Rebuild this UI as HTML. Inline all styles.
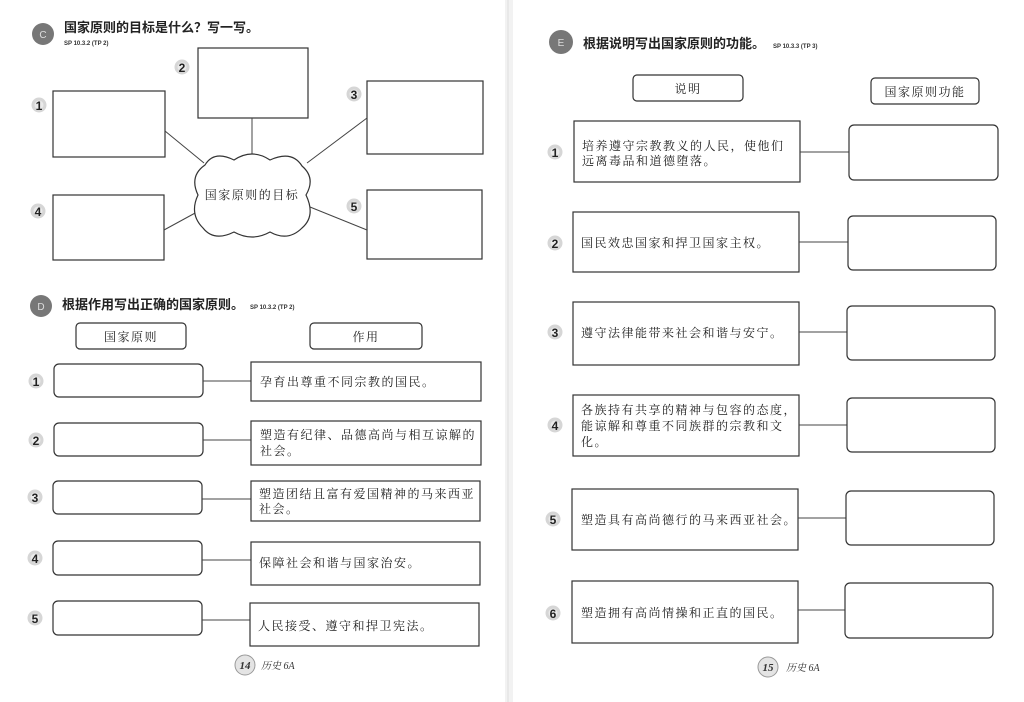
<!DOCTYPE html>
<html><head><meta charset="utf-8"><style>
html,body{margin:0;padding:0;background:#fff;}
svg{display:block;}
.h{font-family:"Liberation Sans","Noto Sans CJK SC",sans-serif;font-weight:bold;font-size:13px;fill:#222;}
.sp{font-family:"Liberation Sans",sans-serif;font-weight:bold;font-size:6px;fill:#333;}
.t{font-family:"Liberation Serif","Noto Serif CJK SC",serif;font-size:12px;fill:#222;letter-spacing:1.5px;}
.n{font-family:"Liberation Sans",sans-serif;font-weight:bold;font-size:12px;fill:#222;}
.b{fill:none;stroke:#333;stroke-width:1.2;}
.l{stroke:#444;stroke-width:1;}
</style></head><body>
<svg width="1024" height="702" viewBox="0 0 1024 702" xmlns="http://www.w3.org/2000/svg">
<rect x="0" y="0" width="1024" height="702" fill="#fff"/>
<rect x="505" y="0" width="8" height="702" fill="#f2f2f2"/>
<line x1="508" y1="0" x2="508" y2="702" stroke="#ddd" stroke-width="1"/>

<defs>
<g id="fl"><circle r="7.5" fill="#d6d6d6"/><circle r="4.5" fill="#eaeaea"/></g>
</defs>

<!-- Section C -->
<circle cx="43" cy="34" r="11" fill="#777"/>
<text x="43" y="38" text-anchor="middle" font-family="Liberation Sans" font-size="10" fill="#ddd">C</text>
<text x="64" y="32" class="h">国家原则的目标是什么？写一写。</text>
<text x="64" y="45" class="sp">SP 10.3.2 (TP 2)</text>

<rect x="198" y="48" width="110" height="70" class="b"/>
<rect x="53" y="91" width="112" height="66" class="b"/>
<rect x="367" y="81" width="116" height="73" class="b"/>
<rect x="53" y="195" width="111" height="65" class="b"/>
<rect x="367" y="190" width="115" height="69" class="b"/>
<line x1="252" y1="118" x2="252" y2="156" class="l"/>
<line x1="165" y1="131" x2="204" y2="163" class="l"/>
<line x1="367" y1="118" x2="307" y2="163" class="l"/>
<line x1="164" y1="230" x2="197" y2="212" class="l"/>
<line x1="367" y1="230" x2="310" y2="207" class="l"/>
<path d="M205,165 Q214,150 234,160 Q252,148 270,160 Q292,150 302,166 Q316,178 306,195 Q316,216 302,228 Q288,242 270,232 Q252,242 234,232 Q214,242 203,228 Q189,214 198,195 Q189,176 205,165 Z" fill="#fff" stroke="#333" stroke-width="1.2"/>
<text x="252" y="199" text-anchor="middle" class="t">国家原则的目标</text>

<use href="#fl" x="182" y="67"/><text x="182" y="72" text-anchor="middle" class="n">2</text>
<use href="#fl" x="39" y="105"/><text x="39" y="110" text-anchor="middle" class="n">1</text>
<use href="#fl" x="354" y="94"/><text x="354" y="99" text-anchor="middle" class="n">3</text>
<use href="#fl" x="38" y="211"/><text x="38" y="216" text-anchor="middle" class="n">4</text>
<use href="#fl" x="354" y="206"/><text x="354" y="211" text-anchor="middle" class="n">5</text>

<!-- Section D -->
<circle cx="41" cy="306" r="11" fill="#777"/>
<text x="41" y="310" text-anchor="middle" font-family="Liberation Sans" font-size="10" fill="#ddd">D</text>
<text x="62" y="309" class="h">根据作用写出正确的国家原则。</text>
<text x="250" y="309" class="sp">SP 10.3.2 (TP 2)</text>
<rect x="76" y="323" width="110" height="26" rx="4" class="b"/>
<text x="131" y="341" text-anchor="middle" class="t">国家原则</text>
<rect x="310" y="323" width="112" height="26" rx="4" class="b"/>
<text x="366" y="341" text-anchor="middle" class="t">作用</text>

<g>
<rect x="54" y="364" width="149" height="33" rx="5" class="b"/>
<line x1="203" y1="381" x2="251" y2="381" class="l"/>
<rect x="251" y="362" width="230" height="39" class="b"/>
<text x="260" y="386" class="t">孕育出尊重不同宗教的国民。</text>
<use href="#fl" x="36" y="381"/><text x="36" y="386" text-anchor="middle" class="n">1</text>

<rect x="54" y="423" width="149" height="33" rx="5" class="b"/>
<line x1="203" y1="440" x2="251" y2="440" class="l"/>
<rect x="251" y="421" width="230" height="44" class="b"/>
<text x="260" y="439" class="t">塑造有纪律、品德高尚与相互谅解的</text>
<text x="260" y="455" class="t">社会。</text>
<use href="#fl" x="36" y="440"/><text x="36" y="445" text-anchor="middle" class="n">2</text>

<rect x="53" y="481" width="149" height="33" rx="5" class="b"/>
<line x1="202" y1="499" x2="251" y2="499" class="l"/>
<rect x="251" y="481" width="229" height="40" class="b"/>
<text x="259" y="498" class="t">塑造团结且富有爱国精神的马来西亚</text>
<text x="259" y="513" class="t">社会。</text>
<use href="#fl" x="35" y="497"/><text x="35" y="502" text-anchor="middle" class="n">3</text>

<rect x="53" y="541" width="149" height="34" rx="5" class="b"/>
<line x1="202" y1="560" x2="251" y2="560" class="l"/>
<rect x="251" y="542" width="229" height="43" class="b"/>
<text x="259" y="567" class="t">保障社会和谐与国家治安。</text>
<use href="#fl" x="35" y="558"/><text x="35" y="563" text-anchor="middle" class="n">4</text>

<rect x="53" y="601" width="149" height="34" rx="5" class="b"/>
<line x1="202" y1="620" x2="250" y2="620" class="l"/>
<rect x="250" y="603" width="229" height="43" class="b"/>
<text x="258" y="630" class="t">人民接受、遵守和捍卫宪法。</text>
<use href="#fl" x="35" y="618"/><text x="35" y="623" text-anchor="middle" class="n">5</text>
</g>

<circle cx="245" cy="665" r="10" fill="#e4e4e4" stroke="#999" stroke-width="1"/>
<text x="245" y="669" text-anchor="middle" font-family="Liberation Serif" font-style="italic" font-weight="bold" font-size="11" fill="#333">14</text>
<text x="261" y="669" font-family="Liberation Serif,Noto Serif CJK SC,serif" font-style="italic" font-size="10" fill="#333">历史 6A</text>

<!-- Section E -->
<circle cx="561" cy="42" r="12" fill="#777"/>
<text x="561" y="46" text-anchor="middle" font-family="Liberation Sans" font-size="10" fill="#ddd">E</text>
<text x="583" y="48" class="h">根据说明写出国家原则的功能。</text>
<text x="773" y="48" class="sp">SP 10.3.3 (TP 3)</text>
<rect x="633" y="75" width="110" height="26" rx="4" class="b"/>
<text x="688" y="93" text-anchor="middle" class="t">说明</text>
<rect x="871" y="78" width="108" height="26" rx="4" class="b"/>
<text x="925" y="96" text-anchor="middle" class="t">国家原则功能</text>

<rect x="574" y="121" width="226" height="61" class="b"/>
<text x="582" y="150" class="t">培养遵守宗教教义的人民，使他们</text>
<text x="582" y="165" class="t">远离毒品和道德堕落。</text>
<line x1="800" y1="152" x2="849" y2="152" class="l"/>
<rect x="849" y="125" width="149" height="55" rx="5" class="b"/>
<use href="#fl" x="555" y="152"/><text x="555" y="157" text-anchor="middle" class="n">1</text>

<rect x="573" y="212" width="226" height="60" class="b"/>
<text x="581" y="247" class="t">国民效忠国家和捍卫国家主权。</text>
<line x1="799" y1="242" x2="848" y2="242" class="l"/>
<rect x="848" y="216" width="148" height="54" rx="5" class="b"/>
<use href="#fl" x="555" y="243"/><text x="555" y="248" text-anchor="middle" class="n">2</text>

<rect x="573" y="302" width="226" height="63" class="b"/>
<text x="581" y="337" class="t">遵守法律能带来社会和谐与安宁。</text>
<line x1="799" y1="332" x2="847" y2="332" class="l"/>
<rect x="847" y="306" width="148" height="54" rx="5" class="b"/>
<use href="#fl" x="555" y="332"/><text x="555" y="337" text-anchor="middle" class="n">3</text>

<rect x="573" y="395" width="226" height="61" class="b"/>
<text x="581" y="414" class="t">各族持有共享的精神与包容的态度，</text>
<text x="581" y="430" class="t">能谅解和尊重不同族群的宗教和文</text>
<text x="581" y="446" class="t">化。</text>
<line x1="799" y1="425" x2="847" y2="425" class="l"/>
<rect x="847" y="398" width="148" height="54" rx="5" class="b"/>
<use href="#fl" x="555" y="425"/><text x="555" y="430" text-anchor="middle" class="n">4</text>

<rect x="572" y="489" width="226" height="61" class="b"/>
<text x="581" y="524" class="t">塑造具有高尚德行的马来西亚社会。</text>
<line x1="798" y1="518" x2="846" y2="518" class="l"/>
<rect x="846" y="491" width="148" height="54" rx="5" class="b"/>
<use href="#fl" x="553" y="519"/><text x="553" y="524" text-anchor="middle" class="n">5</text>

<rect x="572" y="581" width="226" height="62" class="b"/>
<text x="581" y="617" class="t">塑造拥有高尚情操和正直的国民。</text>
<line x1="798" y1="610" x2="845" y2="610" class="l"/>
<rect x="845" y="583" width="148" height="55" rx="5" class="b"/>
<use href="#fl" x="553" y="613"/><text x="553" y="618" text-anchor="middle" class="n">6</text>

<circle cx="768" cy="667" r="10" fill="#e4e4e4" stroke="#999" stroke-width="1"/>
<text x="768" y="671" text-anchor="middle" font-family="Liberation Serif" font-style="italic" font-weight="bold" font-size="11" fill="#333">15</text>
<text x="786" y="671" font-family="Liberation Serif,Noto Serif CJK SC,serif" font-style="italic" font-size="10" fill="#333">历史 6A</text>
</svg>
</body></html>
